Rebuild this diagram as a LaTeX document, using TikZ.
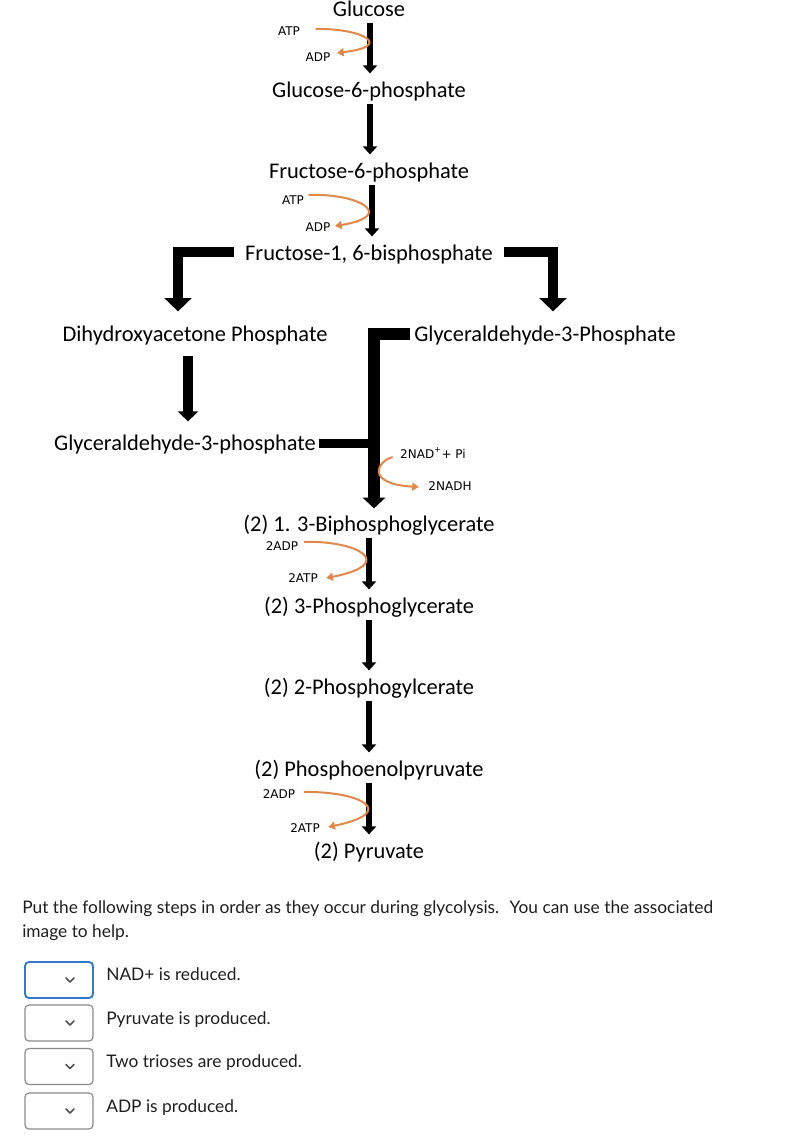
\documentclass[tikz,border=0pt]{standalone}
\usepackage{fontspec}
\setmainfont{Carlito}
\newfontfamily\latofont{Lato}
\newfontfamily\labfont{DejaVu Sans}
\usetikzlibrary{arrows.meta,calc}
\definecolor{orng}{RGB}{222,137,75}
\definecolor{ddgray}{RGB}{138,138,138}
\definecolor{ddblue}{RGB}{52,120,200}
\definecolor{chevc}{RGB}{80,80,80}
\definecolor{txtc}{RGB}{30,30,30}
\begin{document}
\begin{tikzpicture}[x=0.75pt,y=-0.75pt,
  chem/.style={font=\fontsize{16.8}{19}\selectfont, inner sep=2pt, text height=12pt, text depth=4pt},
  lab/.style={font=\labfont\fontsize{9}{10}\selectfont, inner sep=1pt},
  stepar/.style={line width=5pt, shorten >=2.25pt, -{Triangle[width=10.5pt,length=6pt]}},
  dropar/.style={line width=7.5pt, -{Triangle[width=15pt,length=7.5pt]}},
  bigar/.style={line width=7pt, -{Triangle[width=20pt,length=10pt]}},
  joinar/.style={line width=8.5pt, -{Triangle[width=16.5pt,length=8pt]}},
  joinbar/.style={line width=6.75pt},
  curvar/.style={draw=orng, line width=1.5pt, -{Triangle[width=6pt,length=5pt,fill=orng]}},
  ddbox/.style={draw=ddgray, line width=0.9pt, rounded corners=3pt, minimum width=51pt, minimum height=27pt, inner sep=0pt},
  chev/.style={draw=chevc, line width=1.1pt, line cap=round, line join=round},
  answer/.style={font=\latofont\fontsize{13}{15}\selectfont, anchor=base west, inner sep=0pt, text=txtc},
]
\useasboundingbox (0,0) rectangle (794,1138);

% main chain
\node[chem] (glc) at (369,11) {Glucose};
\node[chem] (g6p) at (369,92) {Glucose-6-phosphate};
\node[chem] (f6p) at (369,173) {Fructose-6-phosphate};
\node[chem] (fbp) at (369,255) {Fructose-1, 6-bisphosphate};
\node[chem] (dhap) at (195,336) {Dihydroxyacetone Phosphate};
\node[chem] (g3pR) at (545,336) {Glyceraldehyde-3-Phosphate};
\node[chem] (g3pL) at (185,445) {Glyceraldehyde-3-phosphate};
\node[chem] (bpg) at (369,526) {(2) 1. 3-Biphosphoglycerate};
\node[chem] (pg3) at (369,608) {(2) 3-Phosphoglycerate};
\node[chem] (pg2) at (369,689) {(2) 2-Phosphogylcerate};
\node[chem] (pep) at (369,771) {(2) Phosphoenolpyruvate};
\node[chem] (pyr) at (369,853) {(2) Pyruvate};

% small labels
\node[lab] (atp1) at (289,31) {ATP};
\node[lab] (adp1) at (318,57) {ADP};
\node[lab] (atp2) at (293,200) {ATP};
\node[lab] (adp2) at (318,227) {ADP};
\node[lab] (nad) at (433,453) {2NAD\textsuperscript{+}+ Pi};
\node[lab] (nadh) at (450,486) {2NADH};
\node[lab] (adp3) at (282,546) {2ADP};
\node[lab] (atp3) at (303,578) {2ATP};
\node[lab] (adp4) at (279,794) {2ADP};
\node[lab] (atp4) at (305,828) {2ATP};

% straight arrows
\draw[stepar] ($(glc.south)+(1,-2)$) -- ($(g6p.north)+(1,-2)$);
\draw[stepar] ($(g6p.south)+(1,-2)$) -- ($(f6p.north)+(1,-2)$);
\draw[stepar] ($(f6p.south)+(3,-2)$) -- ($(fbp.north)+(3,-2)$);
\draw[stepar] ($(bpg.south)+(0,-2)$) -- ($(pg3.north)+(0,-2)$);
\draw[stepar] ($(pg3.south)+(0,-2)$) -- ($(pg2.north)+(0,-2)$);
\draw[stepar] ($(pg2.south)+(0,-2)$) -- ($(pep.north)+(0,-2)$);
\draw[stepar] ($(pep.south)+(0,-2)$) -- ($(pyr.north)+(0,-2)$);

% branching arrows
\draw[bigar] ($(fbp.west)+(-8,-3)$) -| ($(dhap.north)+(-17,-11)$);
\draw[bigar] ($(fbp.east)+(8,-3)$) -| ($(g3pR.north)+(8,-11)$);
\draw[dropar] ($(dhap.south)+(-7,6)$) -- ($(g3pL.north)+(3,-10)$);
\coordinate (vx) at ($(bpg.north)+(5,-4)$);
\draw[joinbar] ($(g3pL.east)+(0,-2)$) -- ($(g3pL.east -| vx)+(0,-2)$);
\draw[joinar] ($(g3pR.west)+(-1,-2)$) -| (vx);

% orange side arrows
\draw[curvar] ($(atp1.east)+(14,-2)$) .. controls (362,28) and (395,46) .. ($(adp1.east)+(5,-4)$);
\draw[curvar] ($(atp2.east)+(3,-5)$) .. controls (360,193) and (397,216) .. ($(adp2.east)+(3,-1)$);
\draw[curvar] ($(adp3.east)+(4,-4)$) .. controls (358,540) and (398,564) .. ($(atp3.east)+(7,0)$);
\draw[curvar] ($(adp4.east)+(7,-2)$) .. controls (360,791) and (400,812) .. ($(atp4.east)+(7,-1)$);
\draw[curvar] ($(nad.west)+(-6,4)$) .. controls (376,462) and (366,484) .. ($(nadh.west)+(-8,1)$);

% question text
\node[answer] (q1) at (22,913) {Put the following steps in order as they occur during glycolysis.~ You can use the associated};
\node[answer] (q2) at (22,937) {image to help.};

% dropdowns
\node[ddbox, draw=ddblue, line width=1.4pt] (dd1) at (59,980) {};
\node[ddbox] (dd2) at (59,1023) {};
\node[ddbox] (dd3) at (59,1066.5) {};
\node[ddbox] (dd4) at (59,1111) {};
\foreach \d in {dd1,dd2,dd3,dd4}{
  \draw[chev] ($(\d.center)+(7,-2)$) -- ($(\d.center)+(11,2)$) -- ($(\d.center)+(15,-2)$);
}
\node[answer] (a1) at (106,980) {NAD+ is reduced.};
\node[answer] (a2) at (106,1024) {Pyruvate is produced.};
\node[answer] (a3) at (106,1067) {Two trioses are produced.};
\node[answer] (a4) at (106,1112) {ADP is produced.};
\end{tikzpicture}
\end{document}
